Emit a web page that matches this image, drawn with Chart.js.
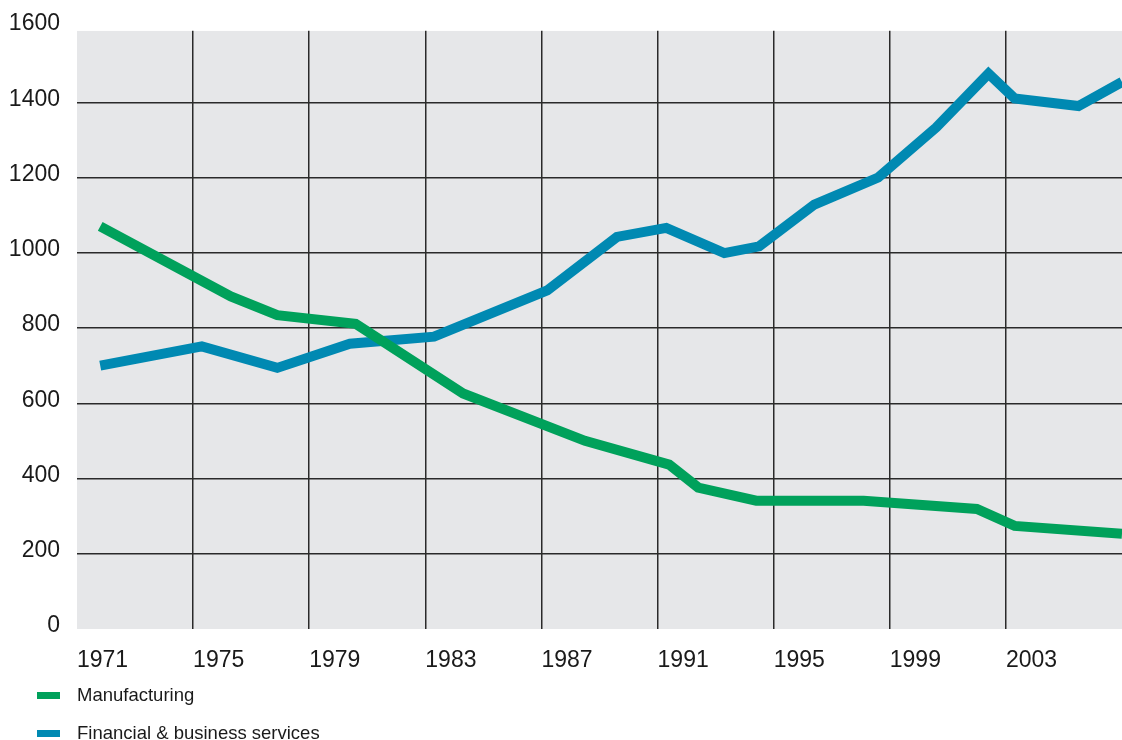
<!DOCTYPE html>
<html>
<head>
<meta charset="utf-8">
<script src="https://cdn.jsdelivr.net/npm/chart.js@4.4.1/dist/chart.umd.min.js"></script>
<style>
  html, body { margin: 0; padding: 0; background: #fff; }
  #wrap { position: relative; width: 1122px; height: 740px; }
  #legend { font: 18.5px 'Liberation Sans', Arial, sans-serif; color: #1a1a1a; }
  .item { position: absolute; left: 37px; height: 22px; display: flex; align-items: center; white-space: nowrap; }
  .swatch { width: 23px; height: 7px; margin-right: 17px; }
</style>
</head>
<body>
<div id="wrap">
  <canvas id="chart"></canvas>
  <div id="legend"></div>
</div>
<script>
// values (x = position in years along the axis)
const mfgYears  = [1971.8, 1976.3, 1977.9, 1980.6, 1984.3, 1988.5, 1991.4, 1992.4, 1994.4, 1998.1, 2002.0, 2003.3, 2007.0];
const mfgValues = [1070,   884,    834,    811,    626,    500,    437,    376,    341,    341,    319,    274,    253];

const finYears  = [1971.8, 1975.3, 1977.9, 1980.4, 1983.3, 1987.2, 1989.6, 1991.3, 1993.3, 1994.5, 1996.4, 1998.6, 2000.6, 2002.4, 2003.3, 2005.5, 2007.0];
const finValues = [700,    751,    694,    758,    777,    900,    1042,   1066,   999,    1017,   1128,   1200,   1333,   1476,   1410,   1390,   1454];

const xTicks = [1971, 1975, 1979, 1983, 1987, 1991, 1995, 1999, 2003];
const yTicks = [0, 200, 400, 600, 800, 1000, 1200, 1400, 1600];

const labels = ["Manufacturing", "Financial & business services"];
const colors = ["#00a15b", "#0089b2"];

const textColor = "#1a1a1a";
const gridColor = "#2a2a2a";

Chart.defaults.font.family = "'Liberation Sans', Arial, sans-serif";
Chart.defaults.color = textColor;

// grey plot panel; it starts a few px under the 1600 line like the original
const plotBg = {
  id: "plotBg",
  beforeDraw(chart) {
    const { ctx, chartArea: a } = chart;
    const top = chart.scales.y.getPixelForValue(1590);
    ctx.save();
    ctx.fillStyle = "#e6e7e9";
    ctx.fillRect(a.left, top, a.right - a.left, a.bottom - top);
    ctx.restore();
  },
  beforeDatasetsDraw(chart) {
    // trim the vertical grid lines to the grey panel
    const { ctx, chartArea: a } = chart;
    const top = chart.scales.y.getPixelForValue(1590);
    ctx.save();
    ctx.fillStyle = "#fff";
    ctx.fillRect(a.left, a.top - 2, a.right - a.left, top - a.top + 2);
    ctx.restore();
  },
};

const toPoints = (xs, ys) => xs.map((x, i) => ({ x: x, y: ys[i] }));

const chart = new Chart(document.getElementById("chart"), {
  type: "line",
  data: {
    datasets: [
      {
        label: labels[0],
        data: toPoints(mfgYears, mfgValues),
        borderColor: colors[0],
        backgroundColor: colors[0],
        borderWidth: 10,
        borderJoinStyle: "miter",
        pointRadius: 0,
        tension: 0,
      },
      {
        label: labels[1],
        data: toPoints(finYears, finValues),
        borderColor: colors[1],
        backgroundColor: colors[1],
        borderWidth: 10,
        borderJoinStyle: "miter",
        pointRadius: 0,
        tension: 0,
      },
    ],
  },
  options: {
    responsive: true,
    maintainAspectRatio: false,
    animation: false,
    layout: { padding: { top: 27, right: 0, left: 0, bottom: 0 } },
    scales: {
      x: {
        type: "linear",
        min: 1971,
        max: 2007,
        afterBuildTicks: (s) => { s.ticks = xTicks.map((v) => ({ value: v })); },
        afterFit: (s) => { s.height = 111; },
        border: { display: false },
        grid: {
          drawTicks: false,
          lineWidth: 1.5,
          color: (c) => (c.tick && c.tick.value === 1971 ? "rgba(0,0,0,0)" : gridColor),
        },
        ticks: {
          align: "start",
          padding: 18,
          maxRotation: 0,
          autoSkip: false,
          font: { size: 23 },
          color: textColor,
          callback: (v) => String(v),
        },
      },
      y: {
        min: 0,
        max: 1600,
        afterBuildTicks: (s) => { s.ticks = yTicks.map((v) => ({ value: v })); },
        afterFit: (s) => { s.width = 77; s.paddingTop = 0; s.paddingBottom = 0; },
        border: { display: false },
        grid: {
          drawTicks: false,
          lineWidth: 1.5,
          color: (c) => (c.tick && (c.tick.value === 0 || c.tick.value === 1600) ? "rgba(0,0,0,0)" : gridColor),
        },
        ticks: {
          padding: 17,
          labelOffset: -3,
          font: { size: 23 },
          color: textColor,
          callback: (v) => String(v),
        },
      },
    },
    plugins: {
      legend: { display: false },
      tooltip: { enabled: false },
    },
  },
  plugins: [plotBg],
});

// legend under the plot, one item per row
const legendEl = document.getElementById("legend");
chart.data.datasets.forEach((ds, i) => {
  const item = document.createElement("div");
  item.className = "item";
  item.style.top = (684 + i * 38) + "px";
  const sw = document.createElement("span");
  sw.className = "swatch";
  sw.style.background = ds.borderColor;
  const tx = document.createElement("span");
  tx.textContent = ds.label;
  item.appendChild(sw);
  item.appendChild(tx);
  legendEl.appendChild(item);
});
</script>
</body>
</html>
